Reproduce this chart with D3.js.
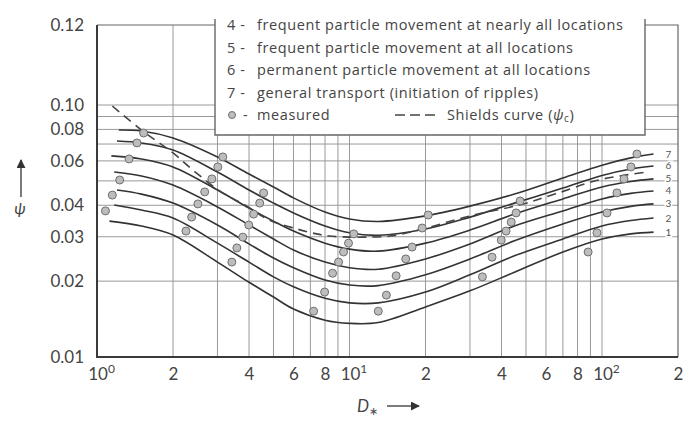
<!DOCTYPE html>
<html>
<head>
<meta charset="utf-8">
<script src="https://cdn.jsdelivr.net/npm/d3@7"></script>
<style>
  body { margin: 0; background: #fff; }
  svg { display: block; font-family: Lato, "Noto Sans", sans-serif; }
</style>
</head>
<body>
<svg id="chart" width="684" height="427"></svg>
<script>
// D* values shared by the seven threshold curves (first one is replaced by curveStart)
const dStar = [1.2, 1.5, 2, 3, 4, 5, 6, 8, 10, 13, 20, 30, 45, 70, 100, 130, 160];
const curveStart = [1.12, 1.17, 1.2, 1.17, 1.14, 1.2, 1.22];

const curve1 = [0.0346, 0.0331, 0.0305, 0.0238, 0.0198, 0.0173, 0.0155, 0.0140, 0.0136, 0.0137, 0.0158, 0.0183, 0.0217, 0.0261, 0.0294, 0.0308, 0.0313];
const curve2 = [0.0401, 0.0383, 0.0356, 0.0283, 0.0238, 0.0208, 0.0190, 0.0171, 0.0164, 0.0164, 0.0181, 0.0212, 0.0252, 0.0294, 0.0331, 0.0348, 0.0356];
const curve3 = [0.0460, 0.0443, 0.0408, 0.0334, 0.0281, 0.0247, 0.0226, 0.0202, 0.0193, 0.0192, 0.0212, 0.0245, 0.0289, 0.0337, 0.0376, 0.0396, 0.0405];
const curve4 = [0.0542, 0.0523, 0.0481, 0.0394, 0.0334, 0.0294, 0.0266, 0.0238, 0.0226, 0.0223, 0.0245, 0.0281, 0.0331, 0.0380, 0.0424, 0.0446, 0.0456];
const curve5 = [0.0628, 0.0611, 0.0568, 0.0460, 0.0390, 0.0346, 0.0316, 0.0283, 0.0268, 0.0263, 0.0283, 0.0319, 0.0369, 0.0424, 0.0473, 0.0497, 0.0509];
const curve6 = [0.0720, 0.0707, 0.0663, 0.0542, 0.0460, 0.0408, 0.0373, 0.0331, 0.0311, 0.0304, 0.0322, 0.0359, 0.0408, 0.0468, 0.0525, 0.0557, 0.0573];
const curve7 = [0.0796, 0.0789, 0.0740, 0.0622, 0.0532, 0.0473, 0.0428, 0.0376, 0.0353, 0.0345, 0.0363, 0.0397, 0.0443, 0.0513, 0.0577, 0.0617, 0.0639];
const curveNames = ["1", "2", "3", "4", "5", "6", "7"];

// Shields curve (dashed)
const shieldsD = [1.15, 1.5, 2, 2.45, 3.1, 3.85, 4.8, 6.2, 7.4, 8.3, 10, 11.5, 14.5, 19.5, 30, 47, 65, 97, 150];
const shieldsPsi = [0.0991, 0.0796, 0.0645, 0.0542, 0.0452, 0.0401, 0.0350, 0.0322, 0.0308, 0.0302, 0.0299, 0.0299, 0.0302, 0.0322, 0.0363, 0.0401, 0.0443, 0.0504, 0.0542];

// measured points
const measuredD = [
  1.53, 1.44, 1.34, 1.23, 1.15, 1.08,
  3.15, 3.01, 2.85, 2.67, 2.51, 2.37, 2.25,
  4.57, 4.41, 4.17, 3.99, 3.78, 3.58, 3.42,
  10.4, 9.91, 9.47, 9.05, 8.57, 7.97, 7.21,
  20.5, 19.4, 17.7, 16.7, 15.3, 14.0, 13.0,
  47.4, 45.7, 43.7, 41.7, 39.9, 36.7, 33.6,
  137.5, 130.2, 122.2, 114.6, 104.7, 95.5, 88.1
];
const measuredPsi = [
  0.0774, 0.0707, 0.0611, 0.0504, 0.0439, 0.0380,
  0.0622, 0.0568, 0.0509, 0.0452, 0.0405, 0.0359, 0.0316,
  0.0448, 0.0408, 0.0369, 0.0334, 0.0299, 0.0271, 0.0238,
  0.0308, 0.0283, 0.0261, 0.0238, 0.0215, 0.0181, 0.0152,
  0.0366, 0.0325, 0.0273, 0.0245, 0.0210, 0.0176, 0.0152,
  0.0416, 0.0373, 0.0343, 0.0316, 0.0291, 0.0249, 0.0208,
  0.0639, 0.0568, 0.0509, 0.0448, 0.0373, 0.0311, 0.0261
];

const xTicks = [1, 2, 4, 6, 8, 10, 20, 40, 60, 80, 100, 200];
const xGrid = [2, 3, 4, 5, 6, 7, 8, 9, 10, 20, 30, 40, 50, 60, 70, 80, 90, 100];
const yTicks = [0.01, 0.02, 0.03, 0.04, 0.06, 0.08, 0.10, 0.12];
const yGrid = [0.02, 0.03, 0.04, 0.05, 0.06, 0.07, 0.08, 0.09, 0.10];

const legendNums = ["4 -", "5 -", "6 -", "7 -"];
const legendTexts = [
  "frequent particle movement at nearly all locations",
  "frequent particle movement at all locations",
  "permanent particle movement at all locations",
  "general transport (initiation of ripples)"
];

const svg = d3.select("#chart");
const plotTop = 25;
const plotBottom = 357;

const x = d3.scaleLog().domain([1, 200]).range([97, 678]);
// the figure stretches the space above 0.10 up to 0.12
const y = d3.scaleLog().domain([0.01, 0.1, 0.12]).range([plotBottom, 105, plotTop]);
const [plotLeft, plotRight] = x.range();

const gridColor = "#9a9a9a";

// grid
svg.append("g")
  .selectAll("line")
  .data(xGrid)
  .join("line")
  .attr("x1", (d) => x(d))
  .attr("x2", (d) => x(d))
  .attr("y1", plotTop)
  .attr("y2", plotBottom)
  .attr("stroke", gridColor)
  .attr("stroke-width", 1);

svg.append("g")
  .selectAll("line")
  .data(yGrid)
  .join("line")
  .attr("x1", plotLeft)
  .attr("x2", plotRight)
  .attr("y1", (d) => y(d))
  .attr("y2", (d) => y(d))
  .attr("stroke", gridColor)
  .attr("stroke-width", 1);

// frame
svg.append("path")
  .attr("d", `M${plotLeft},${plotTop}H${plotRight}V${plotBottom}`)
  .attr("fill", "none")
  .attr("stroke", "#666")
  .attr("stroke-width", 1.2);

svg.append("path")
  .attr("d", `M${plotLeft},${plotTop}V${plotBottom}H${plotRight}`)
  .attr("fill", "none")
  .attr("stroke", "#3a3a3a")
  .attr("stroke-width", 2);

// curves
const line = d3
  .line()
  .x((d) => x(d[0]))
  .y((d) => y(d[1]))
  .curve(d3.curveCatmullRom.alpha(0.5));

const curves = [curve1, curve2, curve3, curve4, curve5, curve6, curve7].map((vals, i) =>
  vals.map((v, j) => [j === 0 ? curveStart[i] : dStar[j], v])
);

svg.append("g")
  .selectAll("path")
  .data(curves)
  .join("path")
  .attr("d", line)
  .attr("fill", "none")
  .attr("stroke", "#333")
  .attr("stroke-width", 1.6);

svg.append("path")
  .datum(shieldsD.map((d, i) => [d, shieldsPsi[i]]))
  .attr("d", line)
  .attr("fill", "none")
  .attr("stroke", "#444")
  .attr("stroke-width", 1.6)
  .attr("stroke-dasharray", "9,6");

// curve numbers at the right end
svg.append("g")
  .selectAll("text")
  .data(curves)
  .join("text")
  .attr("x", (d) => x(d[d.length - 1][0]) + 12)
  .attr("y", (d) => y(d[d.length - 1][1]) + 3.5)
  .attr("font-size", 10)
  .attr("fill", "#555")
  .attr("stroke", "#fff")
  .attr("stroke-width", 3)
  .attr("paint-order", "stroke")
  .text((d, i) => curveNames[i]);

// measured points
svg.append("g")
  .selectAll("circle")
  .data(measuredD.map((d, i) => [d, measuredPsi[i]]))
  .join("circle")
  .attr("cx", (d) => x(d[0]))
  .attr("cy", (d) => y(d[1]))
  .attr("r", 4)
  .attr("fill", "#bdbdbd")
  .attr("stroke", "#6f6f6f")
  .attr("stroke-width", 1);

// y axis labels
const yAxis = svg.append("g")
  .attr("transform", `translate(${plotLeft},0)`)
  .call(d3.axisLeft(y).tickValues(yTicks).tickSize(0).tickPadding(13).tickFormat(d3.format(".2f")));
yAxis.select(".domain").remove();
yAxis.selectAll("text")
  .attr("font-size", 17)
  .attr("font-family", "Lato, sans-serif")
  .attr("fill", "#444");

// x axis labels
const xAxis = svg.append("g")
  .attr("transform", `translate(0,${plotBottom})`)
  .call(d3.axisBottom(x).tickValues(xTicks).tickSize(0).tickPadding(11).tickFormat(""));
xAxis.select(".domain").remove();
xAxis.selectAll("text")
  .attr("font-size", 17)
  .attr("font-family", "Lato, sans-serif")
  .attr("fill", "#444")
  .each(function (d) {
    const t = d3.select(this);
    const p = Math.log10(d);
    if (Number.isInteger(p)) {
      t.attr("dx", 4);
      t.append("tspan").text("10");
      t.append("tspan").attr("font-size", 12).attr("dy", -7).text(p);
    } else {
      t.text(d / Math.pow(10, Math.floor(p)));
    }
  });

// axis titles
const defs = svg.append("defs");
defs.append("marker")
  .attr("id", "arrow")
  .attr("viewBox", "0 0 10 10")
  .attr("refX", 9)
  .attr("refY", 5)
  .attr("markerWidth", 9)
  .attr("markerHeight", 9)
  .attr("markerUnits", "userSpaceOnUse")
  .attr("orient", "auto")
  .append("path")
  .attr("d", "M0,0L10,5L0,10Z")
  .attr("fill", "#333");

svg.append("line")
  .attr("x1", 21).attr("x2", 21)
  .attr("y1", 197).attr("y2", 160)
  .attr("stroke", "#333").attr("stroke-width", 1.3)
  .attr("marker-end", "url(#arrow)");
svg.append("text")
  .attr("x", 20).attr("y", 214)
  .attr("text-anchor", "middle")
  .attr("font-size", 16)
  .attr("font-style", "italic")
  .attr("fill", "#444")
  .text("ψ");

const xTitle = svg.append("text")
  .attr("x", 357).attr("y", 412)
  .attr("font-size", 17)
  .attr("fill", "#444");
xTitle.append("tspan").attr("font-style", "italic").text("D");
xTitle.append("tspan").attr("font-size", 11).attr("dy", 3).text("∗");
svg.append("line")
  .attr("x1", 387).attr("x2", 419)
  .attr("y1", 406).attr("y2", 406)
  .attr("stroke", "#333").attr("stroke-width", 1.3)
  .attr("marker-end", "url(#arrow)");

// legend box (its top runs off the picture)
const lgLeft = 215, lgRight = 645, lgTop = 19, lgBottom = 135;
svg.append("path")
  .attr("d", `M${lgLeft},${lgTop}V${lgBottom}H${lgRight}V${lgTop}Z`)
  .attr("fill", "#fff")
  .attr("stroke", "none");
svg.append("path")
  .attr("d", `M${lgLeft},${lgTop}V${lgBottom}H${lgRight}V${lgTop}`)
  .attr("fill", "none")
  .attr("stroke", "#666")
  .attr("stroke-width", 1.4);

const legend = svg.append("g")
  .attr("font-family", "'Open Sans', Lato, sans-serif")
  .attr("font-size", 14.5)
  .attr("letter-spacing", 0.6)
  .attr("fill", "#444");

legendTexts.forEach((txt, i) => {
  const yy = 30 + i * 22.5;
  legend.append("text").attr("x", 227).attr("y", yy).text(legendNums[i]);
  legend.append("text").attr("x", 257).attr("y", yy).text(txt);
});

const lastY = 120;
legend.append("circle")
  .attr("cx", 232).attr("cy", lastY - 5).attr("r", 3.5)
  .attr("fill", "#bdbdbd").attr("stroke", "#6f6f6f");
legend.append("text").attr("x", 243).attr("y", lastY).text("-");
legend.append("text").attr("x", 257).attr("y", lastY).text("measured");
legend.append("line")
  .attr("x1", 395).attr("x2", 437)
  .attr("y1", lastY - 5).attr("y2", lastY - 5)
  .attr("stroke", "#444").attr("stroke-width", 1.6)
  .attr("stroke-dasharray", "10,5");
const shieldsLabel = legend.append("text").attr("x", 447).attr("y", lastY);
shieldsLabel.append("tspan").text("Shields curve (");
shieldsLabel.append("tspan").attr("font-style", "italic").text("ψ");
shieldsLabel.append("tspan").attr("font-size", 10).attr("dy", 2).text("c");
shieldsLabel.append("tspan").attr("dy", -2).text(")");
</script>
</body>
</html>
